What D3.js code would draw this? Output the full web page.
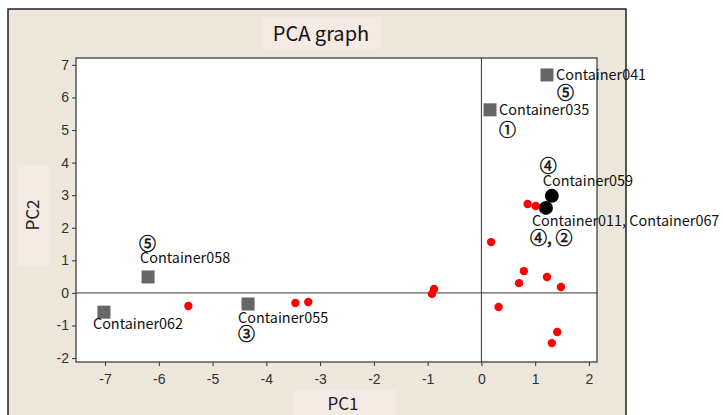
<!DOCTYPE html>
<html>
<head>
<meta charset="utf-8">
<script src="https://cdn.jsdelivr.net/npm/d3@7"></script>
<style>
  body { margin: 0; background: #fff; }
  svg { display: block; }
</style>
</head>
<body>
<svg width="723" height="415"></svg>
<script>
// PCA scores
var redPC1 = [0.86, 1.01, 0.18, 0.79, 0.70, 1.22, 1.48, 0.32, 1.41, 1.31, -5.45, -3.46, -3.22, -0.88, -0.92];
var redPC2 = [2.73, 2.67, 1.56, 0.67, 0.30, 0.49, 0.18, -0.43, -1.20, -1.54, -0.40, -0.31, -0.28, 0.12, -0.03];

var squareNames = ['Container041', 'Container035', 'Container058', 'Container062', 'Container055'];
var squarePC1 = [1.22, 0.16, -6.20, -7.02, -4.34];
var squarePC2 = [6.69, 5.62, 0.49, -0.59, -0.34];
var squareMarks = ['⑤', '①', '⑤', '', '③'];

var blackNames = ['Container059', 'Container011, Container067'];
var blackPC1 = [1.31, 1.20];
var blackPC2 = [2.98, 2.61];
var blackMarks = ['④', '④,\u00a0②'];

var xTicks = [-7, -6, -5, -4, -3, -2, -1, 0, 1, 2];
var yTicks = [-2, -1, 0, 1, 2, 3, 4, 5, 6, 7];

var svg = d3.select('svg');
var font = '"Noto Sans CJK KR", "Noto Sans", sans-serif';

// beige panel
svg.append('rect')
  .attr('x', 8).attr('y', 9)
  .attr('width', 618).attr('height', 420)
  .attr('fill', '#ede6db')
  .attr('stroke', '#222').attr('stroke-width', 1.5);

var plotL = 76, plotR = 597, plotT = 58, plotB = 362;

var x = d3.scaleLinear().domain([-7.54, 2.15]).range([plotL, plotR]);
var y = d3.scaleLinear().domain([-2.12, 7.21]).range([plotB, plotT]);

// title + axis label boxes
svg.append('rect').attr('x', 262).attr('y', 17).attr('width', 119).attr('height', 32).attr('fill', '#f4e9e3');
svg.append('text').attr('x', 321).attr('y', 41).attr('text-anchor', 'middle')
  .style('font-family', font).style('font-size', '20px').attr('fill', '#111').text('PCA graph');

svg.append('rect').attr('x', 293).attr('y', 390).attr('width', 103).attr('height', 25).attr('fill', '#f4e9e3');
svg.append('text').attr('x', 343).attr('y', 410).attr('text-anchor', 'middle')
  .style('font-family', font).style('font-size', '17px').attr('fill', '#222').text('PC1');

svg.append('rect').attr('x', 18).attr('y', 165).attr('width', 31).attr('height', 101).attr('fill', '#f4e9e3');
svg.append('text').attr('transform', 'translate(39,215) rotate(-90)').attr('text-anchor', 'middle')
  .style('font-family', font).style('font-size', '17px').attr('fill', '#222').text('PC2');

// plot area
svg.append('rect')
  .attr('x', plotL).attr('y', plotT)
  .attr('width', plotR - plotL).attr('height', plotB - plotT)
  .attr('fill', '#fff').attr('stroke', '#333').attr('stroke-width', 1.2);

var xAxis = svg.append('g').attr('transform', 'translate(0,' + plotB + ')')
  .call(d3.axisBottom(x).tickValues(xTicks).tickSize(4).tickSizeOuter(0).tickFormat(function(d) { return String(d); }));
var yAxis = svg.append('g').attr('transform', 'translate(' + plotL + ',0)')
  .call(d3.axisLeft(y).tickValues(yTicks).tickSize(4).tickSizeOuter(0).tickFormat(function(d) { return String(d); }));

[xAxis, yAxis].forEach(function(a) {
  a.select('.domain').remove();
  a.selectAll('line').attr('stroke', '#333');
  a.selectAll('text').attr('fill', '#333')
    .style('font-family', '"Liberation Sans", Arial, sans-serif').style('font-size', '14px');
});
xAxis.selectAll('text').attr('dy', '1.05em');

// reference lines at 0
svg.append('line').attr('x1', x(0)).attr('x2', x(0)).attr('y1', plotT).attr('y2', plotB)
  .attr('stroke', '#333').attr('stroke-width', 1);
svg.append('line').attr('x1', plotL).attr('x2', plotR).attr('y1', y(0)).attr('y2', y(0))
  .attr('stroke', '#333').attr('stroke-width', 1);

// red points
svg.append('g').selectAll('circle')
  .data(redPC1.map(function(d, i) { return [d, redPC2[i]]; }))
  .enter().append('circle')
  .attr('cx', function(d) { return x(d[0]); })
  .attr('cy', function(d) { return y(d[1]); })
  .attr('r', 4.2)
  .attr('fill', '#ff0000');

// black points
svg.append('g').selectAll('circle')
  .data(blackPC1.map(function(d, i) { return [d, blackPC2[i]]; }))
  .enter().append('circle')
  .attr('cx', function(d) { return x(d[0]); })
  .attr('cy', function(d) { return y(d[1]); })
  .attr('r', 7)
  .attr('fill', '#000');

// grey squares
svg.append('g').selectAll('rect')
  .data(squarePC1.map(function(d, i) { return [d, squarePC2[i]]; }))
  .enter().append('rect')
  .attr('x', function(d) { return x(d[0]) - 6.5; })
  .attr('y', function(d) { return y(d[1]) - 6.5; })
  .attr('width', 13).attr('height', 13)
  .attr('fill', '#666');

// label offsets (name dx, name dy, mark dx, mark dy) relative to marker
var squareOffsets = [
  [9, 5, 10, 24],
  [9, 5, 9, 26],
  [-8, -14, -9, -27],
  [-11, 17, 0, 0],
  [-10, 19, -10, 36]
];
var blackOffsets = [
  [-9, -10, -12, -24],
  [-14, 18, -16, 36]
];

function addLabels(names, px, py, marks, offs) {
  names.forEach(function(n, i) {
    var cx = x(px[i]), cy = y(py[i]);
    svg.append('text').attr('x', cx + offs[i][0]).attr('y', cy + offs[i][1])
      .style('font-family', font).style('font-size', '14.4px').attr('fill', '#111').text(n);
    if (marks[i]) {
      svg.append('text').attr('x', cx + offs[i][2]).attr('y', cy + offs[i][3])
        .style('font-family', font).style('font-size', '17px')
        .attr('fill', '#111').attr('stroke', '#111').attr('stroke-width', 0.5)
        .text(marks[i]);
    }
  });
}
addLabels(squareNames, squarePC1, squarePC2, squareMarks, squareOffsets);
addLabels(blackNames, blackPC1, blackPC2, blackMarks, blackOffsets);
</script>
</body>
</html>
